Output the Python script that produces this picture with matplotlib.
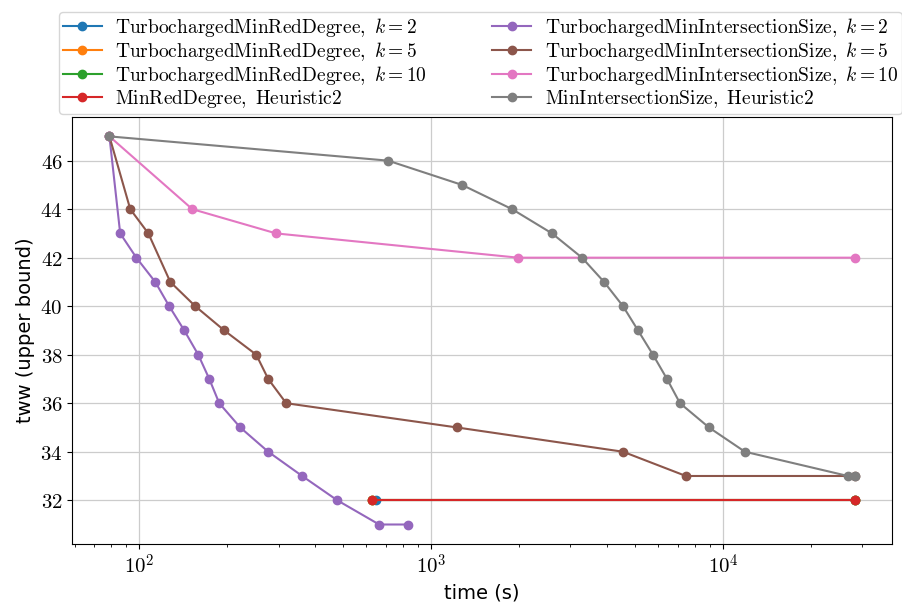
import math
import matplotlib
matplotlib.use("Agg")
import matplotlib.pyplot as plt
from matplotlib.ticker import FuncFormatter

plt.rcParams['mathtext.fontset'] = 'cm'

# time (s) / tww upper bound per run
t_mrd_k2 = [648, 28300]
w_mrd_k2 = [32, 32]
t_mrd_k5 = [628, 28300]
w_mrd_k5 = [32, 32]
t_mrd_k10 = [628, 28300]
w_mrd_k10 = [32, 32]
t_mrd_h2 = [628, 28300]
w_mrd_h2 = [32, 32]

t_mis_k2 = [79, 86, 97.7, 113.4, 126.6, 142.6, 159.2, 173.7, 187.9, 221.8,
            276.5, 361.4, 476.5, 663.5, 834]
w_mis_k2 = [47, 43, 42, 41, 40, 39, 38, 37, 36, 35, 34, 33, 32, 31, 31]
t_mis_k5 = [79, 93.1, 107.4, 127.7, 155.5, 195.5, 251.6, 276.5, 318.7,
            1227, 4545, 7465, 28300]
w_mis_k5 = [47, 44, 43, 41, 40, 39, 38, 37, 36, 35, 34, 33, 33]
t_mis_k10 = [79, 151.9, 294.4, 1986, 28300]
w_mis_k10 = [47, 44, 43, 42, 42]
t_mis_h2 = [79, 712, 1276, 1894, 2596, 3288, 3913, 4545, 5117, 5757, 6430,
            7125, 8955, 11890, 26800, 28300]
w_mis_h2 = [47, 46, 45, 44, 43, 42, 41, 40, 39, 38, 37, 36, 35, 34, 33, 33]

series = [
    (t_mrd_k2, w_mrd_k2, r'$\mathrm{TurbochargedMinRedDegree},\ k=2$'),
    (t_mrd_k5, w_mrd_k5, r'$\mathrm{TurbochargedMinRedDegree},\ k=5$'),
    (t_mrd_k10, w_mrd_k10, r'$\mathrm{TurbochargedMinRedDegree},\ k=10$'),
    (t_mrd_h2, w_mrd_h2, r'$\mathrm{MinRedDegree,\ Heuristic2}$'),
    (t_mis_k2, w_mis_k2, r'$\mathrm{TurbochargedMinIntersectionSize},\ k=2$'),
    (t_mis_k5, w_mis_k5, r'$\mathrm{TurbochargedMinIntersectionSize},\ k=5$'),
    (t_mis_k10, w_mis_k10, r'$\mathrm{TurbochargedMinIntersectionSize},\ k=10$'),
    (t_mis_h2, w_mis_h2, r'$\mathrm{MinIntersectionSize,\ Heuristic2}$'),
]

fig = plt.figure(figsize=(9.02, 6.03), dpi=100)
ax = fig.add_axes([0.08, 0.098, 0.909, 0.708])

for i, (t, w, lab) in enumerate(series):
    ax.plot(t, w, marker='o', markersize=6, linewidth=1.5,
            color=f'C{i}', label=lab)

ax.set_xscale('log')
ax.xaxis.set_major_formatter(FuncFormatter(lambda v, p: r'$10^{%d}$' % round(math.log10(v))))
ax.yaxis.set_major_formatter(FuncFormatter(lambda v, p: r'$%d$' % v))
ax.tick_params(axis='both', labelsize=15)
ax.grid(True, which='major', color='#cccccc', linewidth=0.9)
ax.set_axisbelow(True)

ax.set_xlabel('time (s)', fontsize=14)
ax.set_ylabel('tww (upper bound)', fontsize=14)

fig.legend(*ax.get_legend_handles_labels(), loc='lower left',
           bbox_to_anchor=(59 / 902, 1 - 114 / 603, 843 / 902, 0.15),
           mode='expand', ncol=2, fontsize=14, labelspacing=0.06,
           borderpad=0.2, borderaxespad=0.0, handletextpad=0.7)

fig.savefig('out.png', dpi=100)
